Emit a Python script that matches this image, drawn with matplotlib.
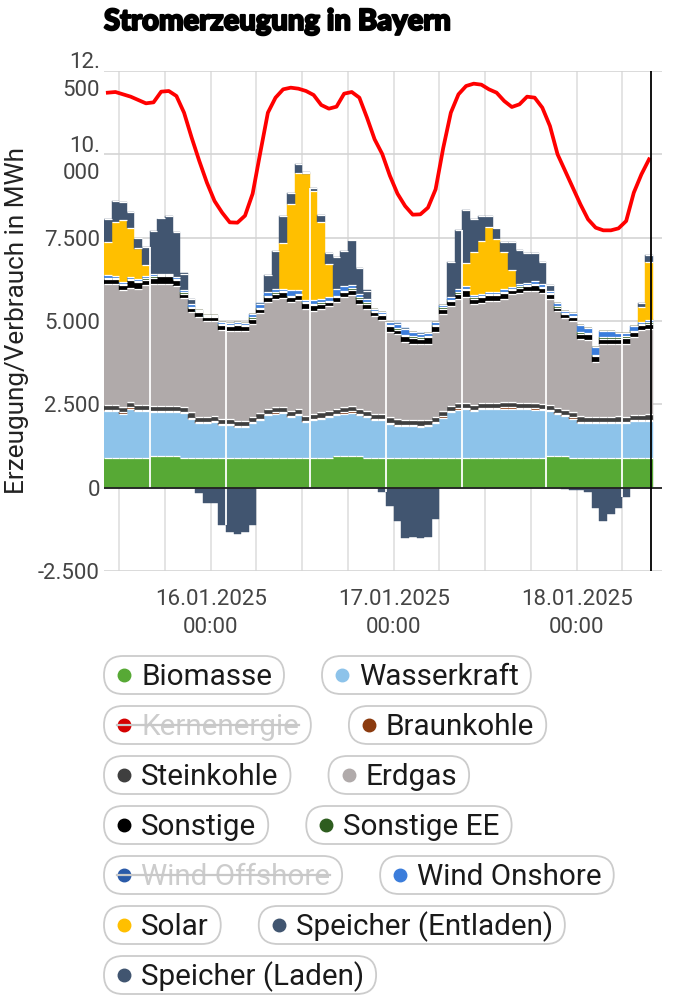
import numpy as np
import matplotlib
matplotlib.use("Agg")
import matplotlib.pyplot as plt
from matplotlib.patches import FancyBboxPatch
import matplotlib.patheffects as pe

# ---------------- data (hourly, starting 15.01.2025 10:00) ----------------
start_hour = 10  # hours after 15.01.2025 00:00
biomasse = [890,890,890,890,890,890,940,940,940,940,
            890,890,890,890,890,890,890,890,890,890,
            890,890,890,890,890,890,890,890,890,890,
            940,940,940,940,890,890,890,890,890,890,
            890,890,890,890,890,890,890,890,890,890,
            890,890,890,890,890,890,890,890,940,940,
            940,890,890,890,890,890,890,890,890,890,
            890,890]
wasserkraft = [1410,1410,1330,1480,1410,1410,1330,1330,1330,1330,
               1350,1180,1050,1050,1080,980,980,930,930,1050,
               1150,1280,1330,1350,1230,1280,1080,1130,1180,1230,
               1230,1280,1310,1230,1220,1140,1130,1030,970,960,
               950,940,960,1050,1210,1380,1450,1460,1410,1460,
               1460,1470,1480,1480,1460,1460,1450,1440,1360,1260,
               1200,1180,1060,1050,1050,1040,1040,1060,1050,1110,
               1110,1120]
braunkohle = [40,40,35,40,35,35,35,35,35,35,
              35,30,30,30,30,30,30,30,30,30,
              30,35,35,35,35,35,35,30,30,35,
              35,35,35,35,35,35,30,30,30,30,
              30,30,30,30,35,35,40,40,40,40,
              40,40,40,40,40,40,40,40,40,35,
              35,35,30,30,30,30,30,30,30,30,
              30,30]
steinkohle = [145,145,150,145,150,150,150,150,150,150,
              150,155,155,155,155,155,155,155,155,155,
              155,150,150,150,150,150,150,155,155,150,
              150,150,150,150,150,150,155,155,155,155,
              155,155,155,155,150,150,145,145,145,145,
              145,145,145,145,145,145,145,145,145,150,
              150,150,155,155,155,155,155,155,155,155,
              155,155]
erdgas = [3620,3620,3520,3450,3490,3590,3650,3670,3670,3590,
          3280,3020,3000,2880,2850,2690,2650,2700,2700,2800,
          3020,3220,3270,3280,3270,3290,3220,3100,3120,3140,
          3220,3320,3340,3150,3080,2930,2820,2570,2560,2340,
          2300,2310,2290,2550,2940,2990,3150,3190,3020,3010,
          3070,3060,3120,3245,3315,3365,3375,3335,3165,2915,
          2775,2745,2340,2300,1650,2210,2210,2190,2200,2340,
          2540,2580]
sonstige = [160,150,150,220,200,170,200,220,220,180,
            120,120,150,120,120,130,140,170,150,150,
            110,150,150,170,150,130,170,170,150,130,
            150,150,170,170,150,130,150,170,140,170,
            180,150,200,170,150,160,150,200,170,180,
            170,170,170,125,150,150,175,140,150,105,
            105,125,150,175,170,150,150,150,175,150,
            150,150]
sonstige_ee = [40,40,40,40,40,40,40,40,40,40,
               40,40,35,35,35,35,35,35,35,35,
               40,40,40,40,40,40,40,40,40,40,
               40,40,40,40,40,40,40,40,40,40,
               40,40,40,40,40,40,40,40,40,40,
               40,40,40,40,40,40,40,40,40,40,
               40,40,40,40,40,40,40,40,40,40,
               40,40]
wind_onshore = [70,50,60,60,60,60,60,40,40,60,
                60,70,10,30,30,60,60,60,50,90,
                130,110,110,60,160,110,40,110,110,110,
                200,140,110,100,100,60,60,90,140,190,
                130,110,80,90,60,80,110,80,60,60,
                60,60,90,60,60,60,85,70,60,100,
                55,65,220,160,240,185,185,135,110,130,
                60,80]
solar = [1000,1630,1850,1470,900,330,0,0,0,0,
         0,0,0,0,0,0,0,0,0,0,
         0,0,0,1370,2580,3520,3800,3275,2300,1000,
         0,0,0,0,0,0,0,0,0,0,
         0,0,0,0,0,0,0,685,1285,1585,
         1935,1585,1085,505,0,0,0,0,0,0,
         0,0,0,0,0,0,0,0,0,0,
         450,1730]
speicher_entladen = [670,630,550,480,300,550,1300,1650,1730,1350,
                     500,150,0,0,0,0,0,0,0,0,
                     0,500,1120,800,320,270,55,100,200,320,
                     950,1030,1320,780,250,0,0,0,0,0,
                     0,0,0,0,0,1050,1750,1595,985,735,
                     335,315,300,830,1030,880,830,660,190,0,
                     0,0,0,0,0,0,0,0,0,0,
                     120,200]
speicher_laden = [0,0,0,0,0,0,0,0,0,0,
                  0,0,-175,-455,-455,-1120,-1320,-1390,-1320,-1120,
                  0,0,0,0,0,0,0,0,0,0,
                  0,0,0,0,0,0,-125,-550,-1000,-1500,
                  -1470,-1500,-1470,-925,0,0,0,0,0,0,
                  0,0,0,0,0,0,0,0,0,0,
                  -30,-60,-75,-125,-600,-1010,-775,-600,-285,0,
                  0,0]
verbrauch = [11850,11870,11800,11730,11630,11530,11560,11880,11900,11750,
             11250,10500,9800,9150,8600,8250,7960,7950,8160,8820,
             10050,11250,11700,11950,12000,11970,11900,11780,11480,11370,
             11430,11820,11870,11700,11100,10450,10010,9360,8820,8450,
             8190,8200,8400,8950,10190,11250,11800,12050,12120,12090,
             11950,11850,11600,11420,11500,11730,11700,11400,10850,10000,
             9500,9000,8500,8050,7800,7720,7720,7780,8000,8850,
             9400,9850]

y_ticks = [-2500, 0, 2500, 5000, 7500, 10000, 12500]
y_tick_labels = ["-2.500", "0", "2.500", "5.000", "7.500", "10.\n000", "12.\n500"]
day_ticks = [24, 48, 72]
day_labels = ["16.01.2025\n00:00", "17.01.2025\n00:00", "18.01.2025\n00:00"]
bar_gap_idx = [6, 16, 27, 37, 47, 58, 68]   # rendering seams visible in the original
now_hour = 81.75

series = [
    ("Biomasse", biomasse, "#57a935"),
    ("Wasserkraft", wasserkraft, "#8dc3ea"),
    ("Braunkohle", braunkohle, "#8b3a0e"),
    ("Steinkohle", steinkohle, "#3f3f3f"),
    ("Erdgas", erdgas, "#b0aaaa"),
    ("Sonstige", sonstige, "#000000"),
    ("Sonstige EE", sonstige_ee, "#2e5d1f"),
    ("Wind Onshore", wind_onshore, "#3b7ddb"),
    ("Solar", solar, "#ffbf00"),
    ("Speicher (Entladen)", speicher_entladen, "#415570"),
]
legend_rows = [
    [("Biomasse", "#57a935", True), ("Wasserkraft", "#8dc3ea", True)],
    [("Kernenergie", "#d40000", False), ("Braunkohle", "#8b3a0e", True)],
    [("Steinkohle", "#3f3f3f", True), ("Erdgas", "#b0aaaa", True)],
    [("Sonstige", "#000000", True), ("Sonstige EE", "#2e5d1f", True)],
    [("Wind Offshore", "#2a5aa8", False), ("Wind Onshore", "#3b7ddb", True)],
    [("Solar", "#ffbf00", True), ("Speicher (Entladen)", "#415570", True)],
    [("Speicher (Laden)", "#415570", True)],
]

# ---------------- figure ----------------
plt.rcParams['font.family'] = ['Roboto', 'DejaVu Sans']
W, H = 696, 1000
fig = plt.figure(figsize=(W / 100, H / 100), dpi=100)
L, R, T, B = 104, 662, 71, 571
ax = fig.add_axes([L / W, 1 - B / H, (R - L) / W, (B - T) / H])

n = len(biomasse)
x = start_hour + 0.5 + np.arange(n)

bottom = np.zeros(n)
for name, vals, col in series:
    v = np.array(vals, dtype=float)
    ax.bar(x, v, width=1.0, bottom=bottom, color=col, edgecolor=col,
           linewidth=0.3, zorder=2)
    top = bottom + v
    m = v > 0
    ax.hlines(top[m], x[m] - 0.5, x[m] + 0.5, color="white", lw=0.9, zorder=3)
    bottom = top
total = bottom

lad = np.array(speicher_laden, dtype=float)
ax.bar(x, lad, width=1.0, color="#415570", edgecolor="#415570", linewidth=0.3, zorder=2)

# white seams
for i in bar_gap_idx:
    xg = start_hour + i
    ax.vlines(xg, max(lad[i - 1], lad[i]), min(total[i - 1], total[i]),
              color="white", lw=1.3, zorder=3)

ax.plot(x, verbrauch, color="#ff0000", lw=2.7, zorder=6, solid_joinstyle="round")
ax.axhline(0, color="#222222", lw=1.3, zorder=4)
ax.axvline(now_hour, color="black", lw=1.3, zorder=7)

ax.set_xlim(start_hour, 83.2)
ax.set_ylim(-2500, 12500)
ax.set_yticks(y_ticks)
ax.set_yticklabels(y_tick_labels, fontsize=16, color="#444444", linespacing=1.4)
ax.set_xticks(day_ticks)
ax.set_xticklabels(day_labels, fontsize=16, color="#444444", linespacing=1.45)
ax.set_xticks(np.arange(12, 83, 6), minor=True)
ax.tick_params(axis="both", which="both", length=0)
ax.tick_params(axis="y", pad=3)
ax.tick_params(axis="x", pad=13)
ax.grid(True, which="major", axis="y", color="#d4d4d4", lw=1.2, zorder=0)
ax.grid(True, which="both", axis="x", color="#dcdcdc", lw=1.1, zorder=0)
ax.set_axisbelow(True)
for s in ax.spines.values():
    s.set_visible(False)

fig.text(17 / W, 1 - 321 / H, "Erzeugung/Verbrauch in MWh", rotation=90,
         ha="center", va="center", fontsize=18.8, color="#222222")
t = fig.text(104 / W, 1 - 22 / H, "Stromerzeugung in Bayern", ha="left", va="center",
             fontsize=21, fontweight="black", color="black",
             family=["Lato", "Roboto", "DejaVu Sans"])
t.set_path_effects([pe.withStroke(linewidth=1.5, foreground="black")])

# ---------------- legend ----------------
lax = fig.add_axes([0, 0, 1, 1])
lax.set_xlim(0, W)
lax.set_ylim(H, 0)
lax.axis("off")
fig.canvas.draw()
renderer = fig.canvas.get_renderer()
row_y0, row_dy = 675, 50
for r, row in enumerate(legend_rows):
    yc = row_y0 + r * row_dy
    x0 = 104
    for label, col, active in row:
        tx = x0 + 37
        txt = lax.text(tx, yc + 10, label, fontsize=21.3, ha="left", va="baseline",
                       color="#1a1a1a" if active else "#cccccc", zorder=5)
        wpx = txt.get_window_extent(renderer).width
        wbox = 37 + wpx + 12
        lax.add_patch(FancyBboxPatch((x0, yc - 19), wbox, 38,
                                     boxstyle="round,pad=0,rounding_size=19",
                                     fc="white", ec="#cccccc", lw=1.3, zorder=3))
        lax.plot([x0 + 20], [yc], marker="o", ms=9, color=col, mec=col, zorder=6)
        if not active:
            lax.plot([x0 + 13, tx + wpx], [yc, yc], color="#c8c8c8", lw=1.6, zorder=7)
        x0 = x0 + wbox + 38

fig.savefig("out.png", dpi=100, facecolor="white")
